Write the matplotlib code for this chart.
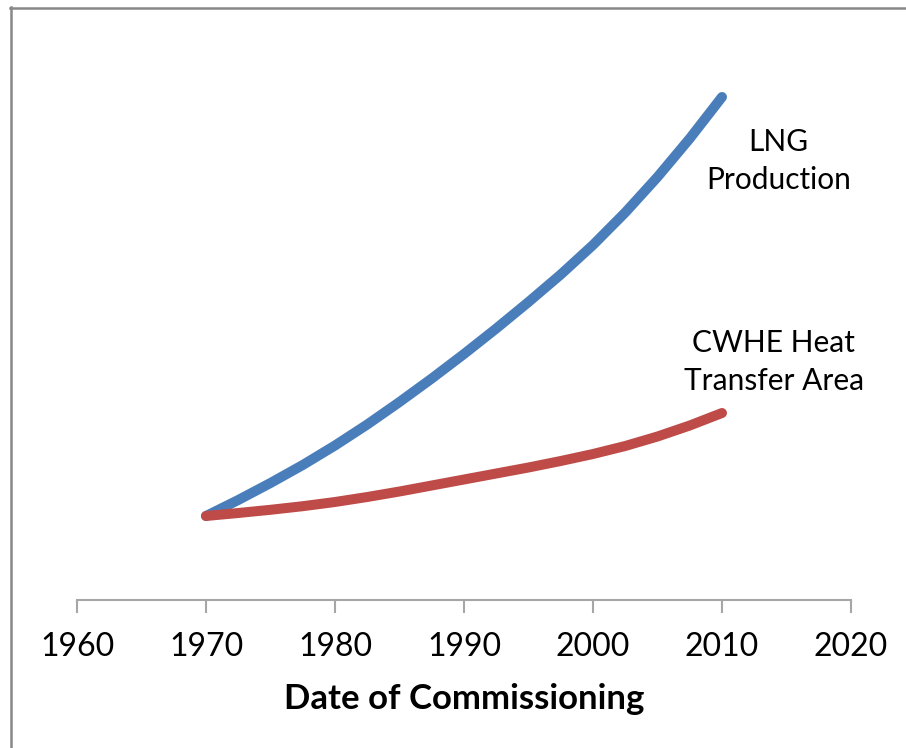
import matplotlib
matplotlib.use("Agg")
import matplotlib.pyplot as plt
from matplotlib.lines import Line2D

years = [1970, 1972.5, 1975, 1977.5, 1980, 1982.5, 1985, 1987.5, 1990,
         1992.5, 1995, 1997.5, 2000, 2002.5, 2005, 2007.5, 2010]
lng_production = [8.4, 10.0, 11.7, 13.5, 15.45, 17.55, 19.8, 22.15, 24.6,
                  27.15, 29.8, 32.55, 35.5, 38.75, 42.3, 46.15, 50.3]
cwhe_area = [8.4, 8.7, 9.02, 9.38, 9.8, 10.3, 10.85, 11.45, 12.05,
             12.65, 13.25, 13.9, 14.6, 15.4, 16.35, 17.45, 18.7]
xticks = [1960, 1970, 1980, 1990, 2000, 2010, 2020]

plt.rcParams['font.family'] = ['Lato', 'DejaVu Sans']

W, H = 906, 748
fig = plt.figure(figsize=(W / 100, H / 100), dpi=100)
ax = fig.add_axes([77 / W, 1 - 600 / H, (851 - 77) / W, 570 / H])

ax.plot(years, lng_production, color='#4A7EBB', lw=7.2,
        solid_capstyle='round', solid_joinstyle='round')
ax.plot(years, cwhe_area, color='#BE4B48', lw=7.2,
        solid_capstyle='round', solid_joinstyle='round')

ax.set_xlim(1960, 2020)
ax.set_ylim(0, 57)
ax.set_xticks(xticks)
ax.set_xticklabels([str(t) for t in xticks], fontsize=23)
ax.set_yticks([])
for s in ['top', 'right', 'left']:
    ax.spines[s].set_visible(False)
ax.spines['bottom'].set_color('#A6A6A6')
ax.spines['bottom'].set_linewidth(1.5)
ax.tick_params(axis='x', direction='out', length=9, width=1.5,
               color='#A6A6A6', pad=14)
ax.set_xlabel('Date of Commissioning', fontsize=25, fontweight='bold',
              labelpad=15)

ax.text(2014.4, (600 - 161) / 10, 'LNG\nProduction', ha='center', va='center',
        fontsize=21.5, linespacing=1.45)
ax.text(2014.0, (600 - 362) / 10, 'CWHE Heat\nTransfer Area', ha='center',
        va='center', fontsize=21.5, linespacing=1.45)

# outer border (left and top only visible)
fig.add_artist(Line2D([10.5 / W, 10.5 / W], [0, 1 - 7 / H],
                      transform=fig.transFigure, color='#888888', lw=1.8))
fig.add_artist(Line2D([10 / W, 1], [1 - 7.5 / H, 1 - 7.5 / H],
                      transform=fig.transFigure, color='#888888', lw=1.8))

fig.savefig('out.png', dpi=100, facecolor='white')
